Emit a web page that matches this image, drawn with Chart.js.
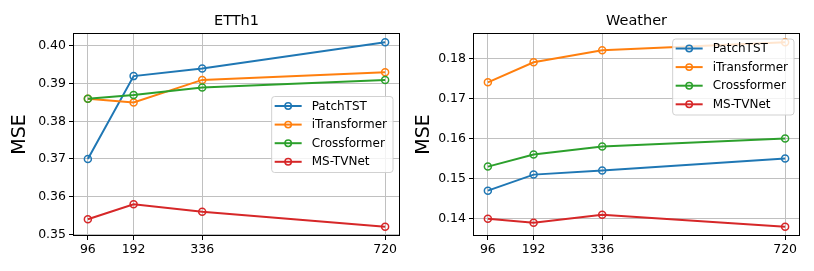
<!DOCTYPE html>
<html>
<head>
<meta charset="utf-8">
<script src="https://cdn.jsdelivr.net/npm/chart.js@4"></script>
<style>
  html, body { margin: 0; padding: 0; background: #fff; }
  .panel { position: absolute; top: 0; width: 407px; height: 271px; }
</style>
</head>
<body>
<div class="panel" style="left:0"><canvas id="etth1" width="407" height="271"></canvas></div>
<div class="panel" style="left:407px"><canvas id="weather" width="407" height="271"></canvas></div>
<script>
// prediction horizons on the x axis
const horizons = [96, 192, 336, 720];
const models = ['PatchTST', 'iTransformer', 'Crossformer', 'MS-TVNet'];
const colors = ['#1f77b4', '#ff7f0e', '#2ca02c', '#d62728'];

// ETTh1 MSE
const etth1PatchTST = [0.370, 0.392, 0.394, 0.401];
const etth1ITransformer = [0.386, 0.385, 0.391, 0.393];
const etth1Crossformer = [0.386, 0.387, 0.389, 0.391];
const etth1MSTVNet = [0.354, 0.358, 0.356, 0.352];
const etth1Ticks = [0.35, 0.36, 0.37, 0.38, 0.39, 0.40];

// Weather MSE
const weatherPatchTST = [0.147, 0.151, 0.152, 0.155];
const weatherITransformer = [0.174, 0.179, 0.182, 0.184];
const weatherCrossformer = [0.153, 0.156, 0.158, 0.160];
const weatherMSTVNet = [0.140, 0.139, 0.141, 0.138];
const weatherTicks = [0.14, 0.15, 0.16, 0.17, 0.18];

const FONT = '"DejaVu Sans", sans-serif';

// title, full frame and a matplotlib style legend inside the axes
const framePlugin = {
  id: 'frameLegend',
  afterDraw(chart, args, opts) {
    const ctx = chart.ctx, a = chart.chartArea;
    ctx.save();
    ctx.fillStyle = '#000';
    ctx.font = '14.5px ' + FONT;
    ctx.textAlign = 'center';
    ctx.textBaseline = 'middle';
    ctx.fillText(opts.title, (a.left + a.right) / 2, 21);

    ctx.strokeStyle = '#000';
    ctx.lineWidth = 1;
    ctx.strokeRect(a.left + 0.5, a.top + 0.5, a.right - a.left - 1, a.bottom - a.top - 1);

    ctx.font = '12px ' + FONT;
    const dss = chart.data.datasets;
    const textW = Math.max(...dss.map(d => ctx.measureText(d.label).width));
    const w = 40 + textW + 6, h = 76;
    const x = a.right - opts.legendRight - w;
    const y = opts.legendTop === 'center' ? (a.top + a.bottom) / 2 - h / 2 : a.top + opts.legendTop;
    ctx.beginPath();
    ctx.roundRect(x, y, w, h, 3);
    ctx.fillStyle = 'rgba(255,255,255,0.8)';
    ctx.fill();
    ctx.strokeStyle = 'rgba(204,204,204,0.9)';
    ctx.stroke();
    dss.forEach((ds, i) => {
      const cy = y + 9.5 + i * 18.6;
      ctx.strokeStyle = ds.borderColor;
      ctx.lineWidth = 2;
      ctx.beginPath();
      ctx.moveTo(x + 3, cy);
      ctx.lineTo(x + 30, cy);
      ctx.stroke();
      ctx.lineWidth = 1.5;
      ctx.beginPath();
      ctx.arc(x + 16.5, cy, 3.2, 0, Math.PI * 2);
      ctx.stroke();
      ctx.fillStyle = '#000';
      ctx.textAlign = 'left';
      ctx.textBaseline = 'middle';
      ctx.fillText(ds.label, x + 40, cy + 0.5);
    });
    ctx.restore();
  }
};

function series(values) {
  return horizons.map((h, i) => ({ x: h, y: values[i] }));
}

function makeChart(id, title, seriesList, yTicks, o) {
  const all = seriesList.flat();
  const yMin = Math.min(...all), yMax = Math.max(...all);
  const ym = (yMax - yMin) * 0.05;
  const xm = (horizons[horizons.length - 1] - horizons[0]) * 0.05;

  new Chart(document.getElementById(id), {
    type: 'line',
    data: {
      datasets: seriesList.map((vals, i) => ({
        label: models[i],
        data: series(vals),
        borderColor: colors[i],
        backgroundColor: colors[i],
        borderWidth: 2,
        pointRadius: 3.5,
        pointBorderWidth: 1.5,
        pointBackgroundColor: 'rgba(0,0,0,0)',
        pointBorderColor: colors[i],
        tension: 0,
        order: seriesList.length - 1 - i
      }))
    },
    options: {
      responsive: false,
      animation: false,
      layout: { padding: { top: 33, right: o.padRight, left: 0, bottom: 0 } },
      plugins: {
        legend: { display: false },
        tooltip: { enabled: false },
        frameLegend: { title: title, legendRight: o.legendRight, legendTop: o.legendTop }
      },
      scales: {
        x: {
          type: 'linear',
          min: horizons[0] - xm,
          max: horizons[horizons.length - 1] + xm,
          afterBuildTicks: s => { s.ticks = horizons.map(v => ({ value: v })); },
          afterFit: s => { s.height = 35; },
          grid: { color: '#c0c0c0', lineWidth: 1, tickLength: 4, tickColor: '#000', tickWidth: 1 },
          border: { display: false },
          ticks: { color: '#000', font: { family: FONT, size: 12.5 }, padding: 2, maxRotation: 0, autoSkip: false, callback: v => String(v) }
        },
        y: {
          min: yMin - ym,
          max: yMax + ym,
          afterBuildTicks: s => { s.ticks = yTicks.map(v => ({ value: v })); },
          afterFit: s => { s.width = o.yWidth; },
          grid: { color: '#c0c0c0', lineWidth: 1, tickLength: 4, tickColor: '#000', tickWidth: 1 },
          border: { display: false },
          ticks: { color: '#000', font: { family: FONT, size: 12.5 }, padding: 3, callback: v => v.toFixed(2) },
          title: { display: true, text: 'MSE', color: '#000', font: { family: FONT, size: 19 }, padding: { top: o.titlePad, bottom: 0 } }
        }
      }
    },
    plugins: [framePlugin]
  });
}

makeChart('etth1', 'ETTh1',
  [etth1PatchTST, etth1ITransformer, etth1Crossformer, etth1MSTVNet], etth1Ticks,
  { yWidth: 73, padRight: 7, titlePad: 9, legendRight: 7, legendTop: 'center' });

makeChart('weather', 'Weather',
  [weatherPatchTST, weatherITransformer, weatherCrossformer, weatherMSTVNet], weatherTicks,
  { yWidth: 66, padRight: 14, titlePad: 6, legendRight: 6, legendTop: 6 });
</script>
</body>
</html>
